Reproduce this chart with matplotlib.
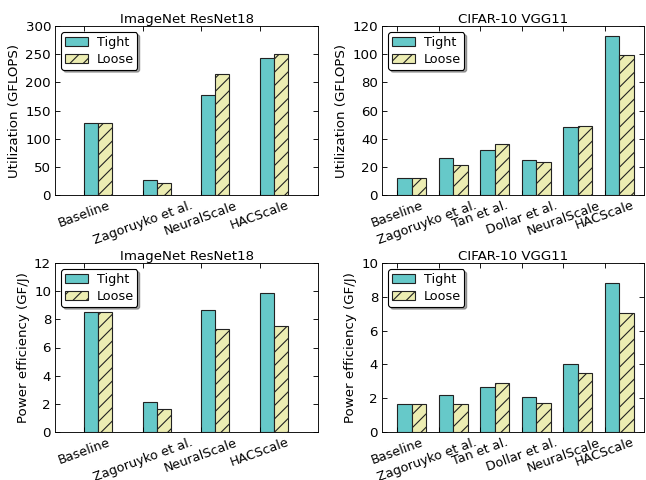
"""Utilization and power efficiency, tight vs loose, for two networks."""

import matplotlib
matplotlib.use("Agg")
import matplotlib.pyplot as plt
import matplotlib.transforms as mtransforms
import numpy as np

IMAGENET_METHODS = ["Baseline", "Zagoruyko et al.", "NeuralScale", "HACScale"]
CIFAR_METHODS = ["Baseline", "Zagoruyko et al.", "Tan et al.", "Dollar et al.",
                 "NeuralScale", "HACScale"]

imagenet_util_tight = [127, 27, 178, 244]
imagenet_util_loose = [127, 22, 215, 250]
cifar_util_tight = [12.4, 26.5, 32.0, 24.9, 48.0, 112.8]
cifar_util_loose = [12.4, 21.3, 35.9, 23.7, 48.8, 99.4]

imagenet_eff_tight = [8.54, 2.15, 8.64, 9.89]
imagenet_eff_loose = [8.54, 1.61, 7.34, 7.55]
cifar_eff_tight = [1.68, 2.19, 2.68, 2.09, 4.00, 8.80]
cifar_eff_loose = [1.68, 1.64, 2.88, 1.70, 3.49, 7.06]

TIGHT_COLOR = "#66c9c9"
LOOSE_COLOR = "#ecedb2"

DPI = 80
plt.rcParams["font.family"] = "DejaVu Sans"
plt.rcParams["font.size"] = 12
plt.rcParams["hatch.linewidth"] = 1.0


def bar_panel(ax, labels, tight, loose, width, xlim, ylim, ylabel, title,
              shift_label=None):
    x = np.arange(len(labels))
    # bars anchored at their left edge, ticks sit on the left edge of each pair
    ax.bar(x, tight, width, align="edge", color=TIGHT_COLOR,
           edgecolor="#222222", linewidth=1.0, label="Tight")
    ax.bar(x + width, loose, width, align="edge", color=LOOSE_COLOR,
           edgecolor="#222222", linewidth=1.0, hatch="//", label="Loose")
    ax.set_xlim(*xlim)
    ax.set_ylim(*ylim)
    ax.set_xticks(x)
    ax.tick_params(direction="in", top=True, right=True, length=4.5,
                   labelsize=12)
    ax.tick_params(axis="x", labelsize=11.5)
    ticklabels = ax.set_xticklabels(labels, rotation=20, ha="center",
                                    fontsize=11.5)
    if shift_label is not None:
        # nudge a long label left so it tucks under its neighbour
        idx, dx = shift_label
        off = mtransforms.ScaledTranslation(dx / 72.0, 0, ax.figure.dpi_scale_trans)
        ticklabels[idx].set_transform(ticklabels[idx].get_transform() + off)
    ax.set_ylabel(ylabel, fontsize=12)
    ax.set_title(title, fontsize=12, pad=3)
    leg = ax.legend(loc="upper left", fontsize=11.5, shadow=True, fancybox=True,
                    handlelength=1.8, borderpad=0.3, labelspacing=0.3,
                    handletextpad=0.65)
    leg.get_frame().set_edgecolor("black")
    leg.get_frame().set_linewidth(1.0)
    leg.get_frame().set_alpha(1.0)


fig = plt.figure(figsize=(646 / DPI, 480 / DPI), dpi=DPI)
W, H = 646.0, 480.0


def add_axes(l, r, t, b):
    return fig.add_axes([l / W, 1 - b / H, (r - l) / W, (b - t) / H])


ax1 = add_axes(55, 318, 26, 195)
ax2 = add_axes(382, 644, 26, 195)
ax3 = add_axes(55, 318, 263, 432)
ax4 = add_axes(382, 644, 263, 432)

bar_panel(ax1, IMAGENET_METHODS, imagenet_util_tight, imagenet_util_loose,
          0.24, (-0.5, 4.0), (0, 300), "Utilization (GFLOPS)", "ImageNet ResNet18")
bar_panel(ax2, CIFAR_METHODS, cifar_util_tight, cifar_util_loose,
          0.345, (-0.37, 5.94), (0, 120), "Utilization (GFLOPS)", "CIFAR-10 VGG11",
          shift_label=(1, -11))
bar_panel(ax3, IMAGENET_METHODS, imagenet_eff_tight, imagenet_eff_loose,
          0.24, (-0.5, 4.0), (0, 12), "Power efficiency (GF/J)", "ImageNet ResNet18")
bar_panel(ax4, CIFAR_METHODS, cifar_eff_tight, cifar_eff_loose,
          0.345, (-0.37, 5.94), (0, 10), "Power efficiency (GF/J)", "CIFAR-10 VGG11",
          shift_label=(1, -11))

fig.savefig("out.png", dpi=DPI)
